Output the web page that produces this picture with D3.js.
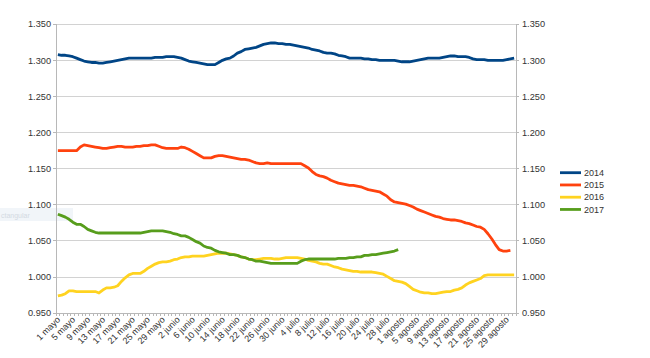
<!DOCTYPE html>
<html><head><meta charset="utf-8">
<script src="https://cdn.jsdelivr.net/npm/d3@7"></script>
<style>body{margin:0;background:#fff} text{font-family:"Liberation Sans",Arial,sans-serif}</style>
</head><body><svg id="c" width="650" height="358"></svg>
<script>
const months = [["mayo",31],["junio",30],["julio",31],["agosto",31]];
const categories = [];
months.forEach(([m,n]) => { for (let d = 1; d <= n; d++) categories.push(d + " " + m); });
const tickLabels = categories.filter((c, i) => i % 4 === 0);
const yTicks = [0.95, 1.0, 1.05, 1.1, 1.15, 1.2, 1.25, 1.3, 1.35];
const seriesNames = ["2014", "2015", "2016", "2017"];
const colors = ["#004586", "#ff420e", "#ffd320", "#579d1c"];

const s2014 = [1.308,1.307,1.307,1.306,1.305,1.303,1.301,1.299,1.298,1.297,
1.297,1.296,1.296,1.297,1.298,1.299,1.300,1.301,1.302,1.303,
1.303,1.303,1.303,1.303,1.303,1.303,1.304,1.304,1.304,1.305,
1.305,1.305,1.304,1.303,1.301,1.299,1.298,1.297,1.296,1.295,
1.294,1.294,1.294,1.297,1.300,1.302,1.303,1.306,1.310,1.312,
1.315,1.316,1.317,1.318,1.320,1.322,1.323,1.324,1.324,1.323,
1.323,1.322,1.322,1.321,1.320,1.319,1.318,1.317,1.315,1.314,
1.313,1.311,1.310,1.310,1.309,1.307,1.306,1.305,1.303,1.303,
1.303,1.303,1.302,1.302,1.301,1.301,1.300,1.300,1.300,1.300,
1.300,1.299,1.298,1.298,1.298,1.299,1.300,1.301,1.302,1.303,
1.303,1.303,1.303,1.304,1.305,1.306,1.306,1.305,1.305,1.305,
1.304,1.302,1.301,1.301,1.301,1.300,1.300,1.300,1.300,1.300,
1.301,1.302,1.303];
const s2015 = [1.175,1.175,1.175,1.175,1.175,1.175,1.180,1.183,1.182,1.181,
1.180,1.179,1.178,1.178,1.179,1.180,1.181,1.181,1.180,1.180,
1.180,1.181,1.181,1.182,1.182,1.183,1.183,1.181,1.179,1.178,
1.178,1.178,1.178,1.180,1.179,1.177,1.174,1.171,1.168,1.165,
1.165,1.165,1.167,1.168,1.168,1.167,1.166,1.165,1.164,1.163,
1.163,1.162,1.160,1.158,1.157,1.157,1.158,1.157,1.157,1.157,
1.157,1.157,1.157,1.157,1.157,1.157,1.154,1.151,1.146,1.142,
1.140,1.139,1.137,1.134,1.132,1.130,1.129,1.128,1.127,1.127,
1.126,1.125,1.123,1.121,1.120,1.119,1.118,1.115,1.112,1.107,
1.104,1.103,1.102,1.101,1.099,1.097,1.094,1.092,1.090,1.088,
1.086,1.084,1.083,1.081,1.080,1.079,1.079,1.078,1.077,1.075,
1.074,1.072,1.070,1.069,1.066,1.060,1.053,1.045,1.038,1.036,
1.036,1.037];
const s2016 = [0.974,0.975,0.977,0.981,0.981,0.980,0.980,0.980,0.980,0.980,
0.980,0.978,0.982,0.985,0.985,0.986,0.988,0.994,0.999,1.003,
1.005,1.005,1.005,1.008,1.012,1.015,1.018,1.020,1.021,1.021,
1.022,1.024,1.025,1.027,1.028,1.028,1.029,1.029,1.029,1.029,
1.030,1.031,1.032,1.033,1.033,1.033,1.032,1.031,1.030,1.028,
1.027,1.025,1.024,1.024,1.025,1.026,1.026,1.026,1.025,1.025,
1.026,1.027,1.027,1.027,1.027,1.026,1.025,1.023,1.022,1.021,
1.019,1.018,1.018,1.016,1.014,1.013,1.011,1.010,1.009,1.008,
1.008,1.007,1.007,1.007,1.007,1.006,1.005,1.004,1.001,0.998,
0.995,0.994,0.993,0.991,0.987,0.983,0.981,0.979,0.978,0.978,
0.977,0.977,0.978,0.979,0.980,0.980,0.982,0.983,0.985,0.989,
0.992,0.994,0.996,0.998,1.002,1.003,1.003,1.003,1.003,1.003,
1.003,1.003,1.003];
const s2017 = [1.087,1.085,1.083,1.080,1.076,1.073,1.073,1.070,1.066,1.064,
1.062,1.061,1.061,1.061,1.061,1.061,1.061,1.061,1.061,1.061,
1.061,1.061,1.061,1.062,1.063,1.064,1.064,1.064,1.064,1.063,
1.062,1.060,1.059,1.057,1.057,1.055,1.052,1.049,1.047,1.043,
1.041,1.040,1.037,1.035,1.034,1.033,1.031,1.031,1.030,1.028,
1.027,1.025,1.024,1.022,1.022,1.021,1.020,1.019,1.019,1.019,
1.019,1.019,1.019,1.019,1.019,1.022,1.024,1.025,1.025,1.025,
1.025,1.025,1.025,1.025,1.025,1.026,1.026,1.026,1.027,1.027,
1.028,1.028,1.030,1.030,1.031,1.031,1.032,1.033,1.034,1.035,
1.036,1.038];
const seriesValues = [s2014, s2015, s2016, s2017];

const L = 56, R = 516, T = 24.2, B = 313.2;
const svg = d3.select("#c");
const x = d3.scaleBand().domain(categories).range([L, R]);
const y = d3.scaleLinear().domain([0.95, 1.35]).range([B, T]);
const bw = x.bandwidth();
const fmt = d3.format(".3f");

// faint artifact box at left
svg.append("rect").attr("x", 0).attr("y", 208).attr("width", 73).attr("height", 13).attr("fill", "#f1f5f9");
svg.append("text").attr("x", 1).attr("y", 217.5).attr("font-size", 7).attr("fill", "#d3dae2").text("ctangular");

// gridlines
svg.append("g").selectAll("line").data(yTicks).join("line")
  .attr("x1", L).attr("x2", R).attr("y1", d => y(d)).attr("y2", d => y(d))
  .attr("stroke", "#d2d2d2").attr("stroke-width", 1).attr("shape-rendering", "crispEdges");

// axis lines
const ax = svg.append("g").attr("stroke", "#b8b8b8").attr("shape-rendering", "crispEdges");
ax.append("line").attr("x1", L).attr("x2", L).attr("y1", T).attr("y2", B + 3);
ax.append("line").attr("x1", R).attr("x2", R).attr("y1", T).attr("y2", B + 3);
ax.append("line").attr("x1", L).attr("x2", R).attr("y1", B).attr("y2", B);
ax.selectAll(".xt").data(d3.range(categories.length + 1)).join("line")
  .attr("x1", i => L + i * bw).attr("x2", i => L + i * bw).attr("y1", B).attr("y2", B + 3);
ax.selectAll(".yl").data(yTicks).join("line")
  .attr("x1", L - 3).attr("x2", L).attr("y1", d => y(d)).attr("y2", d => y(d));
ax.selectAll(".yr").data(yTicks).join("line")
  .attr("x1", R).attr("x2", R + 3).attr("y1", d => y(d)).attr("y2", d => y(d));

// y labels
svg.append("g").selectAll("text").data(yTicks).join("text")
  .attr("x", 51).attr("y", d => y(d)).attr("dy", "0.35em").attr("text-anchor", "end")
  .attr("font-size", 9.2).attr("fill", "#333").text(d => fmt(d));
svg.append("g").selectAll("text").data(yTicks).join("text")
  .attr("x", 522).attr("y", d => y(d)).attr("dy", "0.35em").attr("text-anchor", "start")
  .attr("font-size", 9.2).attr("fill", "#333").text(d => fmt(d));

// x labels
svg.append("g").selectAll("text").data(tickLabels).join("text")
  .attr("transform", d => `translate(${x(d) + bw / 2 + 3},${B + 7}) rotate(-45)`)
  .attr("text-anchor", "end").attr("font-size", 9).attr("fill", "#333").text(d => d);

// series lines
const line = d3.line().x((d, i) => x(categories[i]) + bw / 2).y(d => y(d));
seriesValues.forEach((vals, k) => {
  svg.append("path").datum(vals).attr("d", line).attr("fill", "none")
    .attr("stroke", colors[k]).attr("stroke-width", 2.8)
    .attr("stroke-linejoin", "round").attr("stroke-linecap", "butt");
});

// legend
const lg = svg.append("g");
seriesNames.forEach((n, k) => {
  const yy = 172.7 + k * 12.25;
  lg.append("line").attr("x1", 560).attr("x2", 581).attr("y1", yy).attr("y2", yy)
    .attr("stroke", colors[k]).attr("stroke-width", 2.8);
  lg.append("text").attr("x", 584).attr("y", yy).attr("dy", "0.35em")
    .attr("font-size", 9).attr("fill", "#333").text(n);
});
</script></body></html>
